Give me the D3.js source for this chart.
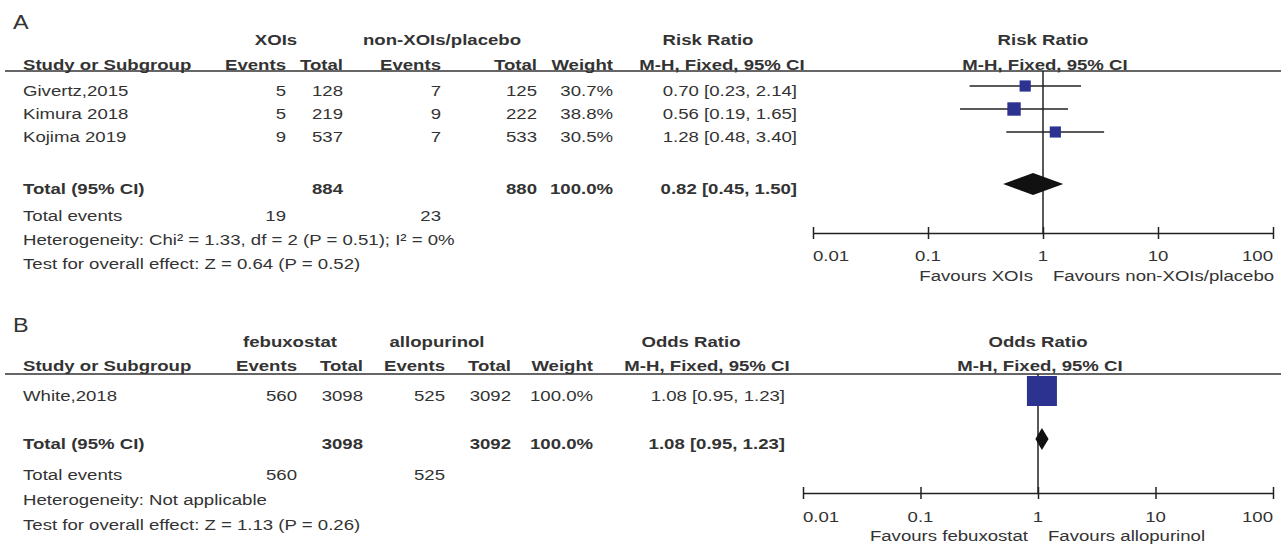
<!DOCTYPE html>
<html>
<head>
<meta charset="utf-8">
<script src="https://cdn.jsdelivr.net/npm/d3@7"></script>
<style>
  body { margin: 0; background: #fff; }
  svg text { font-family: "Liberation Sans", Arial, sans-serif; fill: #333; }
</style>
</head>
<body>
<svg id="chart"></svg>
<script>
// ---- data: panel A (risk ratio) ----
const studiesA = ["Givertz,2015", "Kimura 2018", "Kojima 2019"];
const eventsA1 = [5, 5, 9];
const totalA1 = [128, 219, 537];
const eventsA2 = [7, 9, 7];
const totalA2 = [125, 222, 533];
const weightA = [30.7, 38.8, 30.5];
const estA = [0.70, 0.56, 1.28];
const lowA = [0.23, 0.19, 0.48];
const highA = [2.14, 1.65, 3.40];
const pooledA = [0.82, 0.45, 1.50];      // est, low, high
const sumTotalA = [884, 880];
const sumEventsA = [19, 23];
const groupsA = ["XOIs", "non-XOIs/placebo"];
const favoursA = ["Favours XOIs", "Favours non-XOIs/placebo"];
const hetA = "Heterogeneity: Chi² = 1.33, df = 2 (P = 0.51); I² = 0%";
const testA = "Test for overall effect: Z = 0.64 (P = 0.52)";

// ---- data: panel B (odds ratio) ----
const studiesB = ["White,2018"];
const eventsB1 = [560];
const totalB1 = [3098];
const eventsB2 = [525];
const totalB2 = [3092];
const weightB = [100.0];
const estB = [1.08];
const lowB = [0.95];
const highB = [1.23];
const pooledB = [1.08, 0.95, 1.23];
const sumTotalB = [3098, 3092];
const sumEventsB = [560, 525];
const groupsB = ["febuxostat", "allopurinol"];
const favoursB = ["Favours febuxostat", "Favours allopurinol"];
const hetB = "Heterogeneity: Not applicable";
const testB = "Test for overall effect: Z = 1.13 (P = 0.26)";

const tickValues = [0.01, 0.1, 1, 10, 100];
const tickLabels = ["0.01", "0.1", "1", "10", "100"];

// ---- layout ----
const width = 1281, height = 547;
const SX = 1.2;          // glyphs in the original are a bit wider than Arial
const FS = 15.5;
const ink = "#222";

const posA = {
  letter: "A", ratio: "Risk Ratio",
  cols: { ev1: 286, tot1: 343, ev2: 441, tot2: 537, wt: 613, ci: 797 },
  head: { g1: 276, g2: 442, ratio: 708, mh: 722, pRatio: 1043, pMh: 1045 },
  xRange: [813, 1273],
  y: { letter: 29, h1: 45, h2: 70, line: 71, rows: [96, 119, 142], total: 194,
       events: 221, het: 245, test: 269, axis: 233, tick: 261, fav: 281 }
};
const posB = {
  letter: "B", ratio: "Odds Ratio",
  cols: { ev1: 297, tot1: 363, ev2: 445, tot2: 511, wt: 593, ci: 785 },
  head: { g1: 290, g2: 437, ratio: 691, mh: 707, pRatio: 1038, pMh: 1040 },
  xRange: [803, 1273],
  y: { letter: 332, h1: 347, h2: 371, line: 374, rows: [401], total: 449,
       events: 480, het: 505, test: 530, axis: 493, tick: 522, fav: 541 }
};

const svg = d3.select("#chart").attr("width", width).attr("height", height);
svg.append("rect").attr("width", width).attr("height", height).attr("fill", "#fff");

function label(g, x, y, s, anchor, bold, size) {
  return g.append("text")
    .attr("transform", "translate(" + x + "," + y + ") scale(" + SX + ",1)")
    .attr("text-anchor", anchor || "start")
    .attr("font-weight", bold ? "bold" : null)
    .attr("font-size", size || FS)
    .text(s);
}

const fmt2 = d3.format(".2f");
const ciText = (e, l, h) => fmt2(e) + " [" + fmt2(l) + ", " + fmt2(h) + "]";

// square side scales with study weight
const sizeScale = d3.scaleLinear().domain([30, 100]).range([11, 30]);

function drawPanel(d, p) {
  const g = svg.append("g");
  const c = p.cols, h = p.head, y = p.y;

  label(g, 13, y.letter, p.letter, "start", false, 19.5).attr("fill", "#111");

  // header
  label(g, h.g1, y.h1, d.groups[0], "middle", true);
  label(g, h.g2, y.h1, d.groups[1], "middle", true);
  label(g, h.ratio, y.h1, p.ratio, "middle", true);
  label(g, h.pRatio, y.h1, p.ratio, "middle", true);
  label(g, 23, y.h2, "Study or Subgroup", "start", true);
  label(g, c.ev1, y.h2, "Events", "end", true);
  label(g, c.tot1, y.h2, "Total", "end", true);
  label(g, c.ev2, y.h2, "Events", "end", true);
  label(g, c.tot2, y.h2, "Total", "end", true);
  label(g, c.wt, y.h2, "Weight", "end", true);
  label(g, h.mh, y.h2, "M-H, Fixed, 95% CI", "middle", true);
  label(g, h.pMh, y.h2, "M-H, Fixed, 95% CI", "middle", true);

  g.append("line").attr("x1", 5).attr("x2", width).attr("y1", y.line).attr("y2", y.line)
    .attr("stroke", "#333").attr("stroke-width", 1.5);

  // study rows
  d.studies.forEach((s, i) => {
    const by = y.rows[i];
    label(g, 23, by, s);
    label(g, c.ev1, by, d.ev1[i], "end");
    label(g, c.tot1, by, d.tot1[i], "end");
    label(g, c.ev2, by, d.ev2[i], "end");
    label(g, c.tot2, by, d.tot2[i], "end");
    label(g, c.wt, by, d3.format(".1f")(d.wt[i]) + "%", "end");
    label(g, c.ci, by, ciText(d.est[i], d.low[i], d.high[i]), "end");
  });

  // totals
  label(g, 23, y.total, "Total (95% CI)", "start", true);
  label(g, c.tot1, y.total, d.sumTot[0], "end", true);
  label(g, c.tot2, y.total, d.sumTot[1], "end", true);
  label(g, c.wt, y.total, "100.0%", "end", true);
  label(g, c.ci, y.total, ciText(d.pooled[0], d.pooled[1], d.pooled[2]), "end", true);
  label(g, 23, y.events, "Total events");
  label(g, c.ev1, y.events, d.sumEv[0], "end");
  label(g, c.ev2, y.events, d.sumEv[1], "end");
  label(g, 23, y.het, d.het);
  label(g, 23, y.test, d.test);

  // forest plot
  const x = d3.scaleLog().domain([0.01, 100]).range(p.xRange);
  const off = 10;

  g.append("line").attr("x1", x(1)).attr("x2", x(1)).attr("y1", y.line).attr("y2", y.axis)
    .attr("stroke", ink).attr("stroke-width", 1.5);

  d.studies.forEach((s, i) => {
    const cy = y.rows[i] - off;
    g.append("line").attr("x1", x(d.low[i])).attr("x2", x(d.high[i]))
      .attr("y1", cy).attr("y2", cy).attr("stroke", ink).attr("stroke-width", 1.5);
    const side = sizeScale(d.wt[i]);
    g.append("rect").attr("x", x(d.est[i]) - side / 2).attr("y", cy - side / 2)
      .attr("width", side).attr("height", side).attr("fill", "#2b3290");
  });

  const dy = y.total - off;
  g.append("path")
    .attr("d", "M" + x(d.pooled[1]) + "," + dy + "L" + x(d.pooled[0]) + "," + (dy - 11) +
               "L" + x(d.pooled[2]) + "," + dy + "L" + x(d.pooled[0]) + "," + (dy + 11) + "Z")
    .attr("fill", "#111");

  const axis = d3.axisBottom(x).tickValues(tickValues).tickSizeInner(6).tickSizeOuter(0).tickFormat("");
  const ag = g.append("g").attr("transform", "translate(0," + y.axis + ")").call(axis);
  ag.select(".domain").attr("stroke", ink).attr("stroke-width", 1.5);
  ag.selectAll(".tick line").attr("y1", -6).attr("y2", 6).attr("stroke", ink).attr("stroke-width", 1.5);

  tickValues.forEach((t, i) => {
    const anchor = i === 0 ? "start" : (i === tickValues.length - 1 ? "end" : "middle");
    label(g, x(t), y.tick, tickLabels[i], anchor);
  });
  label(g, x(1) - 10, y.fav, d.favours[0], "end");
  label(g, x(1) + 10, y.fav, d.favours[1], "start");
}

drawPanel({
  studies: studiesA, ev1: eventsA1, tot1: totalA1, ev2: eventsA2, tot2: totalA2,
  wt: weightA, est: estA, low: lowA, high: highA, pooled: pooledA,
  sumTot: sumTotalA, sumEv: sumEventsA, groups: groupsA, favours: favoursA,
  het: hetA, test: testA
}, posA);

drawPanel({
  studies: studiesB, ev1: eventsB1, tot1: totalB1, ev2: eventsB2, tot2: totalB2,
  wt: weightB, est: estB, low: lowB, high: highB, pooled: pooledB,
  sumTot: sumTotalB, sumEv: sumEventsB, groups: groupsB, favours: favoursB,
  het: hetB, test: testB
}, posB);
</script>
</body>
</html>
